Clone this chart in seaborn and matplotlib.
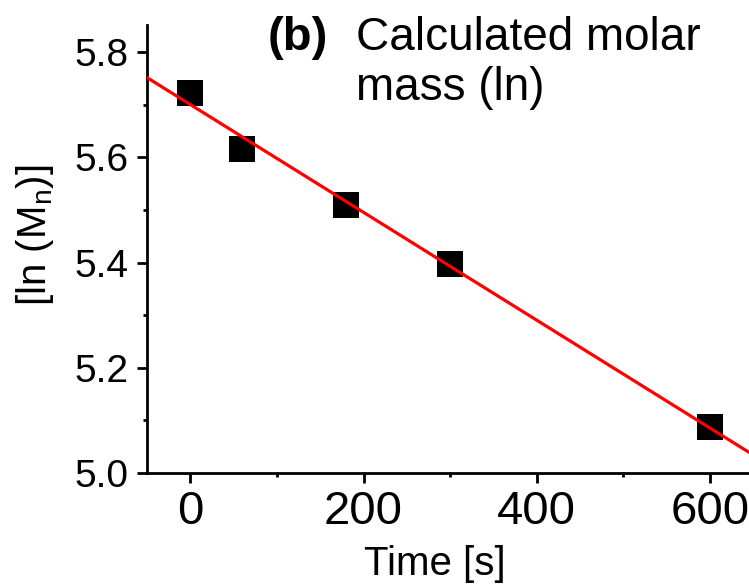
import numpy as np
import pandas as pd
import matplotlib
matplotlib.use("Agg")
import matplotlib.pyplot as plt
from matplotlib.ticker import MultipleLocator
import seaborn as sns

# Data
time_s = [0, 60, 180, 300, 600]
ln_mn = [5.7235, 5.6156, 5.510, 5.398, 5.0866]
x_ticks = [0, 200, 400, 600]
y_ticks = [5.0, 5.2, 5.4, 5.6, 5.8]
title_lines = ["Calculated molar", "mass (ln)"]

df = pd.DataFrame({"time": time_s, "lnMn": ln_mn})

sns.set_theme(style="ticks")
plt.rcParams["font.family"] = ["Liberation Sans", "DejaVu Sans"]
plt.rcParams["mathtext.fontset"] = "custom"
plt.rcParams["mathtext.rm"] = "Liberation Sans"
plt.rcParams["mathtext.it"] = "Liberation Sans"
for k in ["text.color", "axes.labelcolor", "xtick.color", "ytick.color", "axes.edgecolor"]:
    plt.rcParams[k] = "black"

W, H = 749, 584
fig = plt.figure(figsize=(W / 100, H / 100), dpi=100)
ax = fig.add_axes([147 / W, (H - 472.7) / H, 1 - 147 / W, (472.7 - 25) / H])

ax.set_xlim(-50, 645)
ax.set_ylim(5.0, 5.852)

sns.regplot(data=df, x="time", y="lnMn", ax=ax, scatter=False, ci=None,
            truncate=False, line_kws=dict(color="#ff0000", lw=2.3, zorder=3))
sns.scatterplot(data=df, x="time", y="lnMn", ax=ax, marker="s", s=350,
                color="black", edgecolor="none", zorder=2, legend=False)
ax.set_xlim(-50, 645)
ax.set_ylim(5.0, 5.852)

ax.set_xticks(x_ticks)
ax.set_yticks(y_ticks)
ax.set_yticklabels([f"{v:.1f}" for v in y_ticks])
ax.xaxis.set_minor_locator(MultipleLocator(100))
ax.yaxis.set_minor_locator(MultipleLocator(0.1))

for sp in ["top", "right"]:
    ax.spines[sp].set_visible(False)
for sp in ["left", "bottom"]:
    ax.spines[sp].set_linewidth(2.0)
    ax.spines[sp].set_color("black")

ax.tick_params(axis="both", which="major", direction="out", length=7.2, width=2.0, color="black")
ax.tick_params(axis="both", which="minor", direction="out", length=3.2, width=2.0, color="black")
ax.tick_params(axis="y", which="major", labelsize=28, pad=6)
ax.tick_params(axis="x", which="major", labelsize=34, pad=5)

ax.set_xlabel("Time [s]", fontsize=29, labelpad=8)
ax.set_ylabel(r"[ln (M$_\mathrm{n}$)]", fontsize=29, labelpad=13)
ax.xaxis.label.set_x(0.478)
ax.yaxis.label.set_y(0.53)

fig.text(268 / W, 1 - 50 / H, "(b)", fontsize=34, fontweight="bold", va="baseline", ha="left")
fig.text(356 / W, 1 - 50 / H, title_lines[0], fontsize=33, va="baseline", ha="left")
fig.text(356 / W, 1 - 100 / H, title_lines[1], fontsize=33, va="baseline", ha="left")

fig.savefig("out.png", dpi=100)
